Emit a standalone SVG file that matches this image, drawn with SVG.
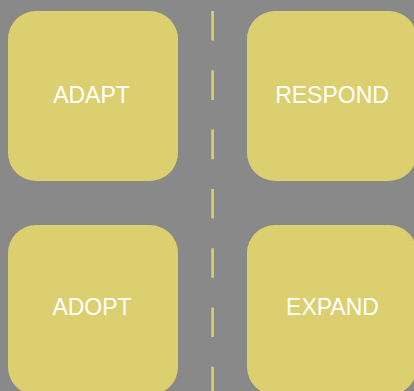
<svg xmlns="http://www.w3.org/2000/svg" width="414" height="391" viewBox="0 0 414 391">
<style>
.box{fill:#DCCF6F}
.lbl{font-family:"Liberation Sans",Arial,sans-serif;font-size:23px;fill:#FFFFFF;text-anchor:middle}
.dash{stroke:#DCCF6F;stroke-width:2.6;stroke-dasharray:29.6 29.7;fill:none}
</style>
<rect x="0" y="0" width="414" height="391" fill="#898989"/>
<g id="connectors">
<line class="dash" x1="212.6" y1="11" x2="212.6" y2="391"/>
</g>
<g id="adapt">
<rect class="box" x="8" y="11" width="170" height="170" rx="28"/>
<text class="lbl" x="91.5" y="102.5">ADAPT</text>
</g>
<g id="respond">
<rect class="box" x="247" y="11" width="170" height="170" rx="28"/>
<text class="lbl" x="332" y="102.5">RESPOND</text>
</g>
<g id="adopt">
<rect class="box" x="8" y="225" width="170" height="170" rx="28"/>
<text class="lbl" x="92" y="314.5">ADOPT</text>
</g>
<g id="expand">
<rect class="box" x="247" y="225" width="170" height="170" rx="28"/>
<text class="lbl" x="332.5" y="314.5">EXPAND</text>
</g>
</svg>
